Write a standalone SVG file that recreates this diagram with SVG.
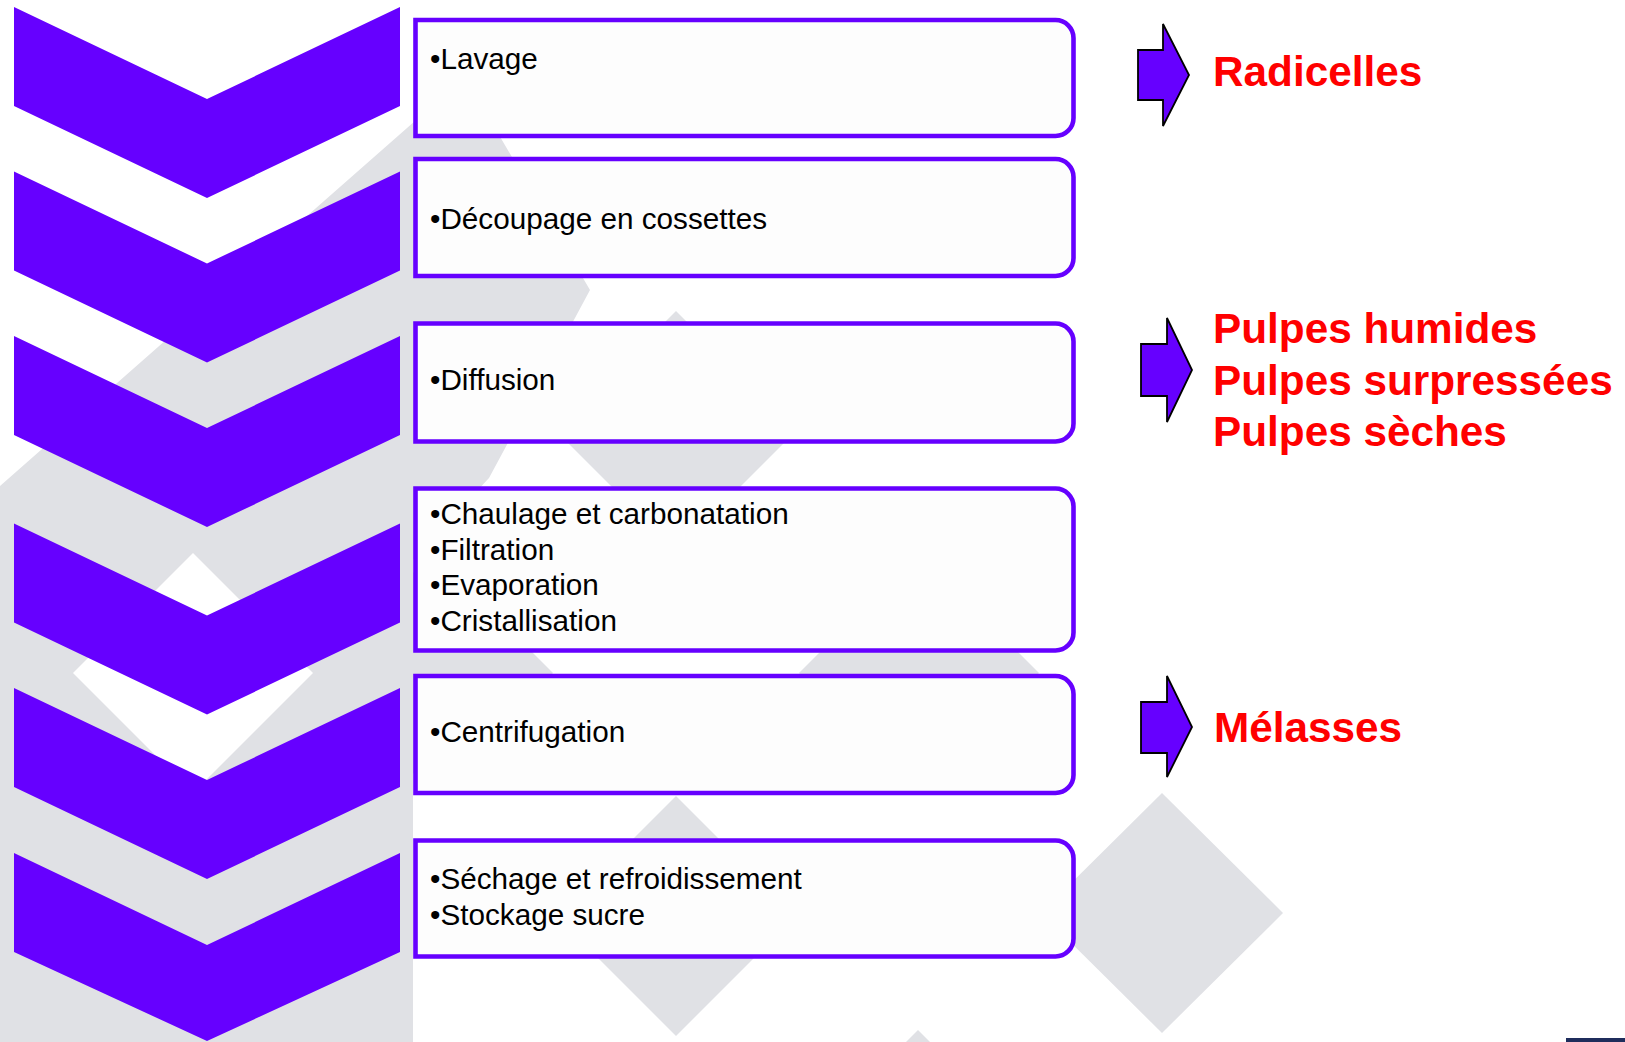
<svg xmlns="http://www.w3.org/2000/svg" width="1625" height="1042" viewBox="0 0 1625 1042">
<style>
.bg{fill:#E0E1E5}
.wh{fill:#FFFFFF}
.chev{fill:#6600FF}
.box{fill:#FDFDFD;stroke:#6600FF;stroke-width:4.6}
.t{font-family:"Liberation Sans",Arial,sans-serif;font-size:29.7px;fill:#000}
.r{font-family:"Liberation Sans",Arial,sans-serif;font-size:42.3px;font-weight:bold;fill:#FF0000}
.arr{fill:#6600FF;stroke:#000;stroke-width:1.8;stroke-linejoin:miter}
</style>
<rect width="1625" height="1042" fill="#FFFFFF"/>
<g id="background">
<polygon class="bg" points="0,486 465,77 590,290 489,478 413,560 413,1042 0,1042"/>
<polygon class="wh" points="193,553 313,673 193,793 73,673"/>
<polygon class="bg" points="676,311 796,431 676,551 556,431"/>
<polygon class="bg" points="919,553 1039,673 919,793 799,673"/>
<polygon class="bg" points="433,553 553,673 433,793 313,673"/>
<polygon class="bg" points="676,796 796,916 676,1036 556,916"/>
<polygon class="bg" points="1162,793 1283,913 1162,1033 1041,913"/>
<polygon class="bg" points="918,1030 1038,1150 918,1270 798,1150"/>
<rect x="1566" y="1038" width="59" height="4" fill="#1F2D5C"/>
</g>
<g id="chevrons">
<polygon id="chev1" class="chev" points="14,7 207,99 400,7 400,106 207,198 14,106"/>
<polygon id="chev2" class="chev" points="14,171.5 207,263.5 400,171.5 400,270.5 207,362.5 14,270.5"/>
<polygon id="chev3" class="chev" points="14,336 207,428 400,336 400,435 207,527 14,435"/>
<polygon id="chev4" class="chev" points="14,523.5 207,615.5 400,523.5 400,622.5 207,714.5 14,622.5"/>
<polygon id="chev5" class="chev" points="14,688 207,780 400,688 400,787 207,879 14,787"/>
<polygon id="chev6" class="chev" points="14,853 207,945 400,853 400,952 207,1041 14,952"/>
</g>
<g id="step1">
<path class="box" d="M415.5,20 H1055.5 A18,18 0 0 1 1073.5,38 V118 A18,18 0 0 1 1055.5,136 H415.5 Z"/>
<text class="t" x="430" y="69">•Lavage</text>
</g>
<g id="step2">
<path class="box" d="M415.5,159 H1055.5 A18,18 0 0 1 1073.5,177 V258 A18,18 0 0 1 1055.5,276 H415.5 Z"/>
<text class="t" x="430" y="229">•Découpage en cossettes</text>
</g>
<g id="step3">
<path class="box" d="M415.5,323.5 H1055.5 A18,18 0 0 1 1073.5,341.5 V423.5 A18,18 0 0 1 1055.5,441.5 H415.5 Z"/>
<text class="t" x="430" y="390">•Diffusion</text>
</g>
<g id="step4">
<path class="box" d="M415.5,488.5 H1055.5 A18,18 0 0 1 1073.5,506.5 V632.5 A18,18 0 0 1 1055.5,650.5 H415.5 Z"/>
<text class="t" x="430" y="524">•Chaulage et carbonatation</text>
<text class="t" x="430" y="560">•Filtration</text>
<text class="t" x="430" y="595">•Evaporation</text>
<text class="t" x="430" y="631">•Cristallisation</text>
</g>
<g id="step5">
<path class="box" d="M415.5,676 H1055.5 A18,18 0 0 1 1073.5,694 V775 A18,18 0 0 1 1055.5,793 H415.5 Z"/>
<text class="t" x="430" y="742">•Centrifugation</text>
</g>
<g id="step6">
<path class="box" d="M415.5,840.5 H1055.5 A18,18 0 0 1 1073.5,858.5 V938.5 A18,18 0 0 1 1055.5,956.5 H415.5 Z"/>
<text class="t" x="430" y="889">•Séchage et refroidissement</text>
<text class="t" x="430" y="925">•Stockage sucre</text>
</g>
<g id="connectors">
<polygon class="arr" points="1138,50 1163,50 1163,24 1189,75 1163,126 1163,100 1138,100"/>
<polygon class="arr" points="1141,344 1167,344 1167,318 1192,370 1167,422 1167,396 1141,396"/>
<polygon class="arr" points="1141,702 1167,702 1167,676 1192,727 1167,777 1167,753 1141,753"/>
</g>
<g id="out1">
<text class="r" x="1213" y="86">Radicelles</text>
</g>
<g id="out2">
<text class="r" x="1213" y="343">Pulpes humides</text>
<text class="r" x="1213" y="395">Pulpes surpressées</text>
<text class="r" x="1213" y="446">Pulpes sèches</text>
</g>
<g id="out3">
<text class="r" x="1214" y="742">Mélasses</text>
</g>
</svg>
